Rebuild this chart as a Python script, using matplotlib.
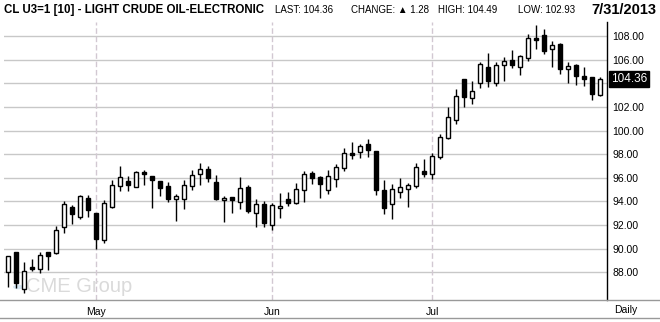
import numpy as np
import pandas as pd
import matplotlib
matplotlib.use('Agg')
import matplotlib.pyplot as plt
from matplotlib.patches import Circle

plt.rcParams['font.family'] = ['Liberation Sans', 'DejaVu Sans']

# daily bars, CL U3 (Sep 2013 crude), 16 Apr - 31 Jul 2013
opens = [88.00, 89.69, 86.56, 88.45, 88.25, 89.69, 89.61, 91.86, 93.53, 92.71,
         94.26, 93.02, 90.74, 93.50, 95.31, 95.73, 95.25, 96.49, 96.15, 95.73,
         95.31, 94.18, 94.18, 95.31, 96.29, 96.72, 95.62, 94.09, 94.35, 93.92,
         95.19, 92.99, 93.75, 91.98, 93.42, 94.18, 93.84, 94.94, 96.38, 96.04,
         94.94, 95.87, 96.80, 98.10, 98.16, 98.83, 98.24, 94.97, 93.75, 94.77,
         95.02, 95.31, 96.58, 96.29, 97.79, 99.34, 100.89, 104.33, 102.73, 103.99,
         105.35, 103.99, 105.52, 105.94, 105.35, 106.17, 107.80, 108.06, 106.87, 107.29,
         105.24, 105.57, 104.62, 104.53, 102.98]
highs = [89.40, 89.70, 88.85, 89.13, 89.72, 89.72, 91.92, 94.04, 93.70, 94.57,
         94.54, 93.04, 94.12, 95.81, 97.03, 96.15, 96.60, 96.63, 96.17, 95.75,
         95.64, 94.63, 95.79, 96.63, 97.22, 97.00, 96.24, 94.46, 94.40, 96.07,
         95.39, 94.21, 94.04, 93.90, 94.71, 94.80, 95.56, 96.58, 96.58, 96.18,
         96.63, 97.14, 98.49, 99.00, 98.89, 99.28, 98.26, 95.79, 95.45, 95.95,
         95.53, 97.22, 97.59, 98.07, 99.68, 101.96, 103.51, 104.35, 104.19, 105.83,
         106.53, 105.83, 106.19, 106.79, 106.39, 108.17, 108.93, 108.56, 107.55, 107.44,
         105.83, 105.63, 105.38, 104.55, 104.49]
lows = [86.79, 86.65, 86.22, 88.08, 87.97, 88.20, 89.58, 91.30, 92.12, 92.49,
        92.71, 89.97, 90.51, 93.48, 94.91, 94.91, 95.19, 95.36, 93.47, 94.49,
        93.98, 92.37, 93.39, 95.00, 95.42, 95.67, 94.09, 92.29, 93.05, 93.39,
        93.05, 91.86, 91.86, 91.58, 92.63, 93.64, 93.82, 93.98, 95.45, 94.32,
        94.66, 95.25, 96.60, 97.62, 97.70, 97.79, 94.57, 92.96, 92.54, 94.32,
        93.56, 95.16, 96.10, 95.90, 97.62, 99.32, 100.52, 101.96, 102.22, 103.63,
        103.71, 103.80, 104.19, 105.32, 104.70, 105.91, 106.87, 106.45, 105.40, 104.76,
        104.05, 103.85, 103.80, 102.58, 102.93]
closes = [89.38, 87.07, 88.08, 88.31, 89.44, 89.41, 91.58, 93.75, 92.94, 94.46,
          93.27, 90.85, 93.84, 95.36, 96.07, 95.42, 96.49, 96.29, 95.84, 95.11,
          94.23, 94.43, 95.36, 96.21, 96.77, 96.01, 94.21, 94.26, 94.15, 95.11,
          93.22, 93.75, 92.15, 93.67, 93.59, 93.90, 95.02, 96.29, 95.95, 95.50,
          96.12, 96.91, 98.07, 97.96, 98.66, 98.38, 95.00, 93.47, 95.02, 95.19,
          95.36, 96.91, 96.29, 97.84, 99.42, 101.12, 102.95, 102.87, 103.32, 105.63,
          104.22, 105.52, 105.86, 105.57, 106.31, 107.80, 107.69, 106.76, 107.21, 105.24,
          105.43, 104.59, 104.39, 103.08, 104.36]

holidays = ['2013-05-27', '2013-07-04']
dates = pd.bdate_range('2013-04-16', '2013-07-31')
dates = dates[~dates.isin(pd.to_datetime(holidays))]

price_ticks = [88, 90, 92, 94, 96, 98, 100, 102, 104, 106, 108]

o = np.array(opens)
h = np.array(highs)
l = np.array(lows)
c = np.array(closes)
x = np.arange(len(dates))
last = c[-1]
change = c[-1] - c[-2]

W, H = 660, 322
fig = plt.figure(figsize=(W / 100, H / 100), dpi=100)
fig.patch.set_facecolor('white')

# plot box in pixels: left 4, right 607, top 22, bottom 300
ax = fig.add_axes([4 / W, 1 - 300 / H, 603 / W, 278 / H])
ax.set_facecolor('white')
ax.set_xlim(-0.5, 74.875)
ax.set_ylim(108 - 264 / 11.82, 108 + 14 / 11.82)

for val in price_ticks:
    ax.axhline(val, color='#c8c8c8', lw=1, zorder=0)

# first trading day of every month
month_idx = [i for i in range(1, len(dates)) if dates[i].month != dates[i - 1].month]
for i in month_idx:
    ax.axvline(i, color='#d2c8d2', lw=1, ls=(0, (4, 2)), zorder=0)

# watermark
ax.text(22 / 603, 14 / 278, 'CME Group', transform=ax.transAxes, fontsize=14.5,
        color='#dadada', va='center', ha='left', zorder=0.5)
ax.add_patch(Circle((14 / 603, 13 / 278), 5 / 603, transform=ax.transAxes,
                    facecolor='#d8e8f4', edgecolor='none', zorder=0.5))

up = c >= o
ax.vlines(x, l, h, color='black', lw=1, zorder=2)
body_h = np.maximum(np.abs(c - o), 0.12)
body_b = np.minimum(o, c)
ax.bar(x[up], body_h[up], bottom=body_b[up], width=0.62, color='white',
       edgecolor='black', linewidth=1, zorder=3)
ax.bar(x[~up], body_h[~up], bottom=body_b[~up], width=0.62, color='black',
       edgecolor='black', linewidth=1, zorder=3)

ax.yaxis.tick_right()
ax.set_yticks(price_ticks)
ax.set_yticklabels(['%.2f' % v for v in price_ticks], fontsize=7.5)
ax.tick_params(axis='y', length=0, pad=4)
ax.set_xticks(month_idx)
ax.set_xticklabels([dates[i].strftime('%b') for i in month_idx], fontsize=7.5)
ax.tick_params(axis='x', length=0, pad=5)
for side in ['top', 'left', 'bottom']:
    ax.spines[side].set_visible(False)
ax.spines['right'].set_color('black')
ax.spines['right'].set_linewidth(1)

# last price tag on the right scale
ax.annotate('%.2f' % last, xy=(1, last), xycoords=('axes fraction', 'data'),
            xytext=(3, 0), textcoords='offset points', fontsize=8.5, color='white',
            va='center', ha='left',
            bbox=dict(boxstyle='square,pad=0.15', fc='black', ec='black'))

# separator lines under the chart
fig.add_artist(plt.Line2D([0, 1], [1 - 300 / H, 1 - 300 / H], color='#999999', lw=1))
fig.add_artist(plt.Line2D([0, 1], [1 - 318 / H, 1 - 318 / H], color='#999999', lw=1))
fig.text(626 / W, 1 - 310 / H, 'Daily', fontsize=7.5, ha='center', va='center')

# header
ty = 1 - 10 / H
fig.text(4 / W, ty, 'CL U3=1 [10] - LIGHT CRUDE OIL-ELECTRONIC', fontsize=8.3,
         fontweight='bold', ha='left', va='center')
fig.text(275 / W, ty, 'LAST: %.2f' % last, fontsize=7, ha='left', va='center')
fig.text(351 / W, ty, 'CHANGE: \u25b2 %.2f' % change, fontsize=7, ha='left', va='center')
fig.text(438 / W, ty, 'HIGH: %.2f' % h[-1], fontsize=7, ha='left', va='center')
fig.text(518 / W, ty, 'LOW: %.2f' % l[-1], fontsize=7, ha='left', va='center')
fig.text(656 / W, ty, dates[-1].strftime('%-m/%-d/%Y'), fontsize=10.5, fontweight='bold',
         ha='right', va='center')

fig.savefig('out.png', dpi=100, facecolor='white')
